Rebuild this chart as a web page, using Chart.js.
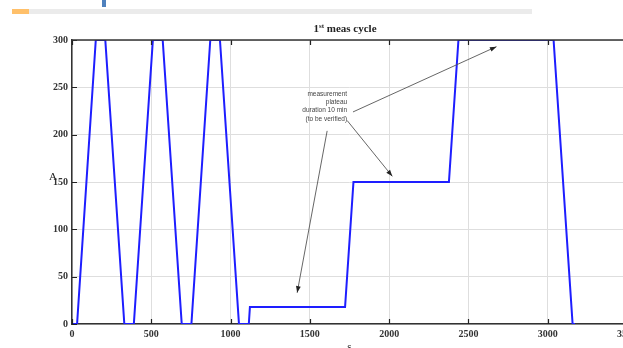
<!DOCTYPE html>
<html>
<head>
<meta charset="utf-8">
<script src="https://cdn.jsdelivr.net/npm/chart.js@4/dist/chart.umd.min.js"></script>
<style>
  html, body { margin: 0; padding: 0; background: #fff; overflow: hidden; }
  #page { position: relative; width: 623px; height: 348px; overflow: hidden; }
  #chartBox { position: absolute; left: 0; top: 0; width: 700px; height: 370px; }
  #title { position: absolute; left: 0; width: 690px; top: 22px; text-align: center;
    font: bold 11px "Liberation Serif", serif; color: #222; }
  #title sup { font-size: 7px; vertical-align: 4px; }
  .bar { position: absolute; }
</style>
</head>
<body>
<div id="page">
  <div class="bar" style="left:12px;top:9px;width:520px;height:5px;background:#ebebeb"></div>
  <div class="bar" style="left:12px;top:9px;width:17px;height:5px;background:#ffc06a"></div>
  <div class="bar" style="left:102px;top:0;width:4px;height:7px;background:#4f81bd"></div>
  <div id="chartBox"><canvas id="myChart" width="700" height="370"></canvas></div>
  <div id="title">1<sup>st</sup> meas cycle</div>
</div>
<script>
// current profile, time in s, current in A
const TIME = [0, 32, 150, 210, 330, 390, 510, 572, 692, 753, 872, 933, 1053, 1115,
  1122, 1722, 1775, 2377, 2437, 3037, 3157, 3172];
const CURRENT = [0, 0, 300, 300, 0, 0, 300, 300, 0, 0, 300, 300, 0, 0,
  18, 18, 150, 150, 300, 300, 0, 0];

const X_TICKS = [0, 500, 1000, 1500, 2000, 2500, 3000, 3500];
const Y_TICKS = [0, 50, 100, 150, 200, 250, 300];

// annotation text and arrows (data coords)
const NOTE_LINES = ['measurement', 'plateau', 'duration 10 min', '(to be verified)'];
const NOTE_AT = [1735, 243];
const ARROWS = [
  [1772, 224, 2677, 293],
  [1735, 215, 2020, 156],
  [1609, 204, 1420, 33]
];

const points = TIME.map((t, i) => ({x: t, y: CURRENT[i]}));

const decor = {
  id: 'decor',
  afterDraw(chart) {
    const ctx = chart.ctx;
    const xs = chart.scales.x, ys = chart.scales.y;
    const a = chart.chartArea;
    ctx.save();
    // inner tick marks
    ctx.strokeStyle = '#222';
    ctx.lineWidth = 1.2;
    ctx.beginPath();
    X_TICKS.forEach(v => {
      const px = Math.round(xs.getPixelForValue(v)) + 0.5;
      ctx.moveTo(px, a.bottom); ctx.lineTo(px, a.bottom - 5);
      ctx.moveTo(px, a.top); ctx.lineTo(px, a.top + 5);
    });
    Y_TICKS.forEach(v => {
      const py = Math.round(ys.getPixelForValue(v)) + 0.5;
      ctx.moveTo(a.left, py); ctx.lineTo(a.left + 5, py);
    });
    ctx.stroke();
    // top border
    ctx.lineWidth = 1.5;
    ctx.strokeStyle = '#333';
    ctx.beginPath();
    ctx.moveTo(a.left, a.top); ctx.lineTo(a.right, a.top);
    ctx.stroke();

    // axis labels
    ctx.fillStyle = '#222';
    ctx.font = '11px "Liberation Serif", serif';
    ctx.textAlign = 'center';
    ctx.textBaseline = 'middle';
    ctx.fillText('A', a.left - 19, ys.getPixelForValue(155));
    ctx.textBaseline = 'top';
    ctx.fillText('s', (a.left + a.right) / 2, a.bottom + 18);

    // annotation
    ctx.fillStyle = '#444';
    ctx.font = '6.5px "Liberation Sans", sans-serif';
    ctx.textAlign = 'right';
    ctx.textBaseline = 'middle';
    const nx = xs.getPixelForValue(NOTE_AT[0]);
    const ny = ys.getPixelForValue(NOTE_AT[1]);
    NOTE_LINES.forEach((s, i) => ctx.fillText(s, nx, ny + i * 8.3));

    ctx.strokeStyle = '#555';
    ctx.fillStyle = '#222';
    ctx.lineWidth = 0.9;
    ARROWS.forEach(([x0, y0, x1, y1]) => {
      const p0 = [xs.getPixelForValue(x0), ys.getPixelForValue(y0)];
      const p1 = [xs.getPixelForValue(x1), ys.getPixelForValue(y1)];
      const ang = Math.atan2(p1[1] - p0[1], p1[0] - p0[0]);
      ctx.beginPath();
      ctx.moveTo(p0[0], p0[1]); ctx.lineTo(p1[0], p1[1]);
      ctx.stroke();
      ctx.beginPath();
      ctx.moveTo(p1[0], p1[1]);
      ctx.lineTo(p1[0] - 7 * Math.cos(ang - 0.35), p1[1] - 7 * Math.sin(ang - 0.35));
      ctx.lineTo(p1[0] - 7 * Math.cos(ang + 0.35), p1[1] - 7 * Math.sin(ang + 0.35));
      ctx.closePath();
      ctx.fill();
    });
    ctx.restore();
  }
};

const tickFont = {family: '"Liberation Serif", serif', size: 10, weight: 'bold'};

new Chart(document.getElementById('myChart'), {
  type: 'scatter',
  data: {
    datasets: [{
      data: points,
      showLine: true,
      borderColor: 'rgb(30,30,255)',
      borderWidth: 2,
      pointRadius: 0,
      tension: 0
    }]
  },
  options: {
    responsive: false,
    animation: false,
    layout: {padding: {left: 32, top: 40, right: 73, bottom: 0}},
    plugins: {legend: {display: false}, tooltip: {enabled: false}},
    scales: {
      x: {
        type: 'linear', min: 0, max: 3500,
        afterBuildTicks: s => { s.ticks = X_TICKS.map(v => ({value: v})); },
        afterFit: s => { s.height = 46; },
        ticks: {font: tickFont, color: '#333', padding: 4, maxRotation: 0, autoSkip: false,
          callback: v => String(v)},
        grid: {color: '#dedede', lineWidth: 1, drawTicks: false},
        border: {color: '#333', width: 1.5}
      },
      y: {
        min: 0, max: 300,
        afterBuildTicks: s => { s.ticks = Y_TICKS.map(v => ({value: v})); },
        afterFit: s => { s.width = 40; },
        ticks: {font: tickFont, color: '#333', padding: 4, callback: v => String(v)},
        grid: {color: '#dedede', lineWidth: 1, drawTicks: false},
        border: {color: '#333', width: 1.5}
      }
    }
  },
  plugins: [decor]
});
</script>
</body>
</html>
